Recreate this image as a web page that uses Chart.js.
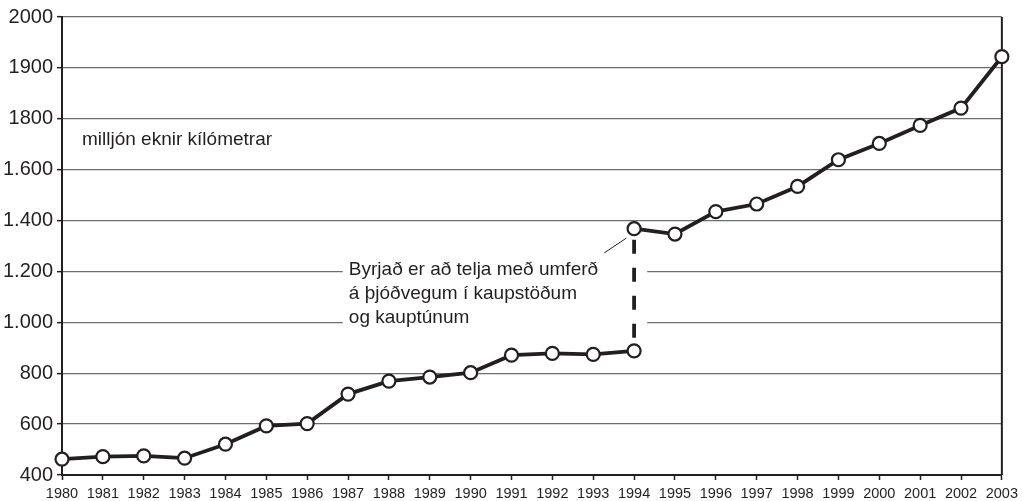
<!DOCTYPE html>
<html>
<head>
<meta charset="utf-8">
<script src="https://cdn.jsdelivr.net/npm/chart.js@4"></script>
<style>
  html, body { margin: 0; padding: 0; background: #fff; }
  canvas { display: block; }
</style>
</head>
<body>
<canvas id="trafficChart" width="1023" height="501"></canvas>
<script>
// Umferð á þjóðvegum, milljón eknir kílómetrar
const oldYears = [1980, 1981, 1982, 1983, 1984, 1985, 1986, 1987, 1988, 1989, 1990, 1991, 1992, 1993, 1994];
const oldValues = [462, 472, 475, 466, 521, 593, 602, 718, 769, 785, 802, 871, 878, 874, 888];
const newYears = [1994, 1995, 1996, 1997, 1998, 1999, 2000, 2001, 2002, 2003];
const newValues = [1368, 1347, 1435, 1465, 1534, 1639, 1703, 1774, 1842, 2044];
const yTickValues = [400, 600, 800, 1000, 1200, 1400, 1600, 1800, 2000, 2200];
const yTickLabels = ['400', '600', '800', '1.000', '1.200', '1.400', '1.600', '1800', '1900', '2000'];
const unitLabel = 'milljón eknir kílómetrar';
const noteLines = ['Byrjað er að telja með umferð', 'á þjóðvegum í kaupstöðum', 'og kauptúnum'];

const ink = '#231f20';
const font = '"Liberation Sans", Arial, Helvetica, sans-serif';

const points = oldYears.map((y, i) => ({ x: y, y: oldValues[i] }))
    .concat(newYears.map((y, i) => ({ x: y, y: newValues[i] })));

const notesPlugin = {
    id: 'notes',
    beforeDatasetsDraw(chart) {
        const ctx = chart.ctx;
        const xs = chart.scales.x;
        const ys = chart.scales.y;
        const area = chart.chartArea;
        ctx.save();

        // right frame
        ctx.strokeStyle = ink;
        ctx.lineWidth = 2;
        ctx.beginPath();
        ctx.moveTo(area.right, area.top);
        ctx.lineTo(area.right, area.bottom);
        ctx.stroke();

        // white box behind the note
        const left = xs.getPixelForValue(1986.87);
        const right = xs.getPixelForValue(1994.32);
        const top = ys.getPixelForValue(1265);
        const bottom = ys.getPixelForValue(950);
        ctx.fillStyle = '#fff';
        ctx.fillRect(left, top, right - left, bottom - top);

        ctx.fillStyle = ink;
        ctx.font = '19px ' + font;
        ctx.textBaseline = 'alphabetic';
        ctx.textAlign = 'left';
        const tx = xs.getPixelForValue(1987.02);
        const baseY = ys.getPixelForValue(1186);
        noteLines.forEach((line, i) => ctx.fillText(line, tx, baseY + i * 24));

        // leader line
        ctx.strokeStyle = ink;
        ctx.lineWidth = 1;
        ctx.beginPath();
        ctx.moveTo(xs.getPixelForValue(1993.27), ys.getPixelForValue(1273));
        ctx.lineTo(xs.getPixelForValue(1993.81), ys.getPixelForValue(1331));
        ctx.stroke();

        // unit label
        ctx.fillText(unitLabel, area.left + 20, ys.getPixelForValue(1695));
        ctx.restore();
    }
};

const isJump = c => c.p0.parsed.x === c.p1.parsed.x;

new Chart(document.getElementById('trafficChart').getContext('2d'), {
    type: 'line',
    data: {
        datasets: [{
            data: points,
            borderColor: ink,
            borderWidth: 3.8,
            pointRadius: 6.5,
            pointHoverRadius: 6.5,
            pointBorderWidth: 2.2,
            pointBackgroundColor: '#fff',
            pointBorderColor: ink,
            tension: 0,
            clip: false,
            segment: {
                borderDash: c => isJump(c) ? [14, 14] : undefined,
                borderDashOffset: c => isJump(c) ? 15 : undefined
            }
        }]
    },
    options: {
        responsive: false,
        devicePixelRatio: 1,
        animation: false,
        layout: { padding: { top: 17, right: 20, left: 0, bottom: 0 } },
        plugins: {
            legend: { display: false },
            tooltip: { enabled: false }
        },
        scales: {
            x: {
                type: 'linear',
                min: 1980,
                max: 2003,
                afterFit: s => { s.height = 26; },
                afterBuildTicks: s => { s.ticks = oldYears.concat(newYears.slice(1)).map(v => ({ value: v })); },
                ticks: {
                    autoSkip: false,
                    maxRotation: 0,
                    padding: 5,
                    color: ink,
                    font: { family: font, size: 14.5 },
                    callback: v => String(v)
                },
                grid: {
                    drawOnChartArea: false,
                    tickLength: 5,
                    tickColor: ink,
                    tickWidth: 1.5
                },
                border: { color: ink, width: 2 }
            },
            y: {
                min: 400,
                max: 2200,
                afterFit: s => { s.width = 62; },
                afterBuildTicks: s => { s.ticks = yTickValues.map(v => ({ value: v })); },
                ticks: {
                    padding: 4,
                    color: ink,
                    font: { family: font, size: 20 },
                    callback: v => yTickLabels[yTickValues.indexOf(v)]
                },
                grid: {
                    color: '#6d6e71',
                    lineWidth: 1.3,
                    tickLength: 5,
                    tickColor: ink,
                    tickWidth: 1.5
                },
                border: { color: ink, width: 2 }
            }
        }
    },
    plugins: [notesPlugin]
});
</script>
</body>
</html>
